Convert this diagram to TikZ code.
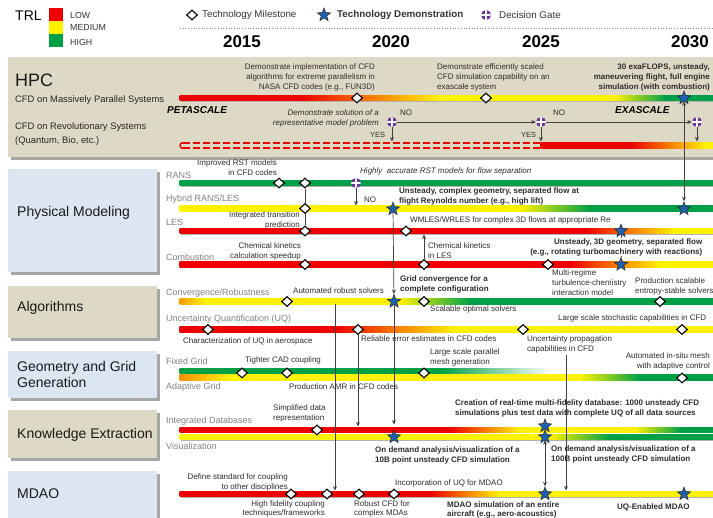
\documentclass[tikz,border=0pt]{standalone}
\usepackage{fontspec}
\setmainfont{Liberation Sans}
\usetikzlibrary{shapes.geometric,arrows.meta,positioning,calc}

\definecolor{trlred}{RGB}{238,0,0}
\definecolor{trlyellow}{RGB}{255,242,0}
\definecolor{trlgreen}{RGB}{0,160,72}
\definecolor{panelbeige}{RGB}{221,217,196}
\definecolor{panelblue}{RGB}{220,230,242}
\definecolor{starblue}{RGB}{30,96,178}
\definecolor{gatepurple}{RGB}{112,48,160}
\definecolor{tracktext}{RGB}{130,130,130}
\definecolor{notetext}{RGB}{45,45,45}

% bar segment: y, from x, to x, start colour, end colour
\newcommand{\trlseg}[5]{\shade[left color=#4, right color=#5] (#2-0.4,#1-2.8) rectangle (#3+0.4,#1+2.8);}
% grey shadow under a bar: y, from x, to x
\newcommand{\trlshadow}[3]{\fill[black!30] (#2+1,#1-1.8) rectangle (#3,#1+3.9);}

\tikzset{
  mile/.style={diamond, draw=black, fill=white, line width=1.1pt, minimum width=11pt, minimum height=10pt, inner sep=0pt},
  demo/.style={star, star points=5, star point ratio=2.4, draw=black!85, fill=starblue, line width=0.5pt, minimum size=14pt, inner sep=0pt},
  gate/.style={circle, fill=gatepurple, minimum size=10pt, inner sep=0pt,
    path picture={\draw[white, line width=1.1pt] (path picture bounding box.north) -- (path picture bounding box.south) (path picture bounding box.west) -- (path picture bounding box.east);}},
  link/.style={draw=black!75, line width=0.7pt},
  arr/.style={link, -{Stealth[length=4.5pt, width=4pt]}},
  note/.style={font=\fontsize{8}{9.6}\selectfont, text=notetext, inner sep=0pt},
  noteb/.style={note, font=\fontsize{8}{9.6}\selectfont\bfseries},
  notei/.style={note, font=\fontsize{8}{9.6}\selectfont\itshape},
  track/.style={font=\fontsize{9}{10}\selectfont, text=tracktext, anchor=west, inner sep=0pt},
  section/.style={font=\fontsize{14}{16.5}\selectfont, text=black!90, anchor=west, inner sep=0pt, align=left},
  year/.style={font=\fontsize{17}{20}\selectfont\bfseries, inner sep=0pt},
  legend/.style={font=\fontsize{9.8}{11}\selectfont, text=black!80, anchor=west, inner sep=0pt},
  panelshadow/.style={fill=black!35},
}

\begin{document}
\begin{tikzpicture}[x=1pt, y=-1pt]
\fill[white] (0,0) rectangle (713,518);
\useasboundingbox (0,0) rectangle (713,518);

% TRL scale
\node[font=\fontsize{14}{16}\selectfont, anchor=west, inner sep=0pt] (trl) at (15,15.5) {TRL};
\fill[trlred] (49,8) rectangle (63,21);
\fill[trlyellow] (49,21) rectangle (63,34);
\fill[trlgreen] (49,34) rectangle (63,47.5);
\node[legend, font=\fontsize{8.8}{10}\selectfont] (low) at (70,15) {LOW};
\node[legend, font=\fontsize{8.8}{10}\selectfont] (medium) at (70,28) {MEDIUM};
\node[legend, font=\fontsize{8.8}{10}\selectfont] (high) at (70,42) {HIGH};

% legend
\node[mile] (legmile) at (192,15) {};
\node[legend] (legmiletxt) at (202,15) {Technology Milestone};
\node[demo] (legdemo) at (324,15) {};
\node[legend, font=\fontsize{9.8}{11}\selectfont\bfseries] (legdemotxt) at (337,15) {Technology Demonstration};
\node[gate] (leggate) at (486,15) {};
\node[legend] (leggatetxt) at (499,15) {Decision Gate};
\draw[black!45, dotted, line width=0.7pt] (180,28) -- (713,28);

% years
\node[year] (y2015) at (242,42) {2015};
\node[year] (y2020) at (391,42) {2020};
\node[year] (y2025) at (541,42) {2025};
\node[year] (y2030) at (690,42) {2030};

% HPC panel
\fill[panelshadow] (11,60) rectangle (713,160);
\fill[panelbeige] (8,57) rectangle (713,157);

% left boxes
\foreach \ytop/\ybot/\col in {169/272/panelblue, 286/338/panelbeige, 351/398/panelblue, 410/458/panelbeige, 471/525/panelblue}{
  \fill[panelshadow] (11,\ytop+3) rectangle (160,\ybot+3);
  \fill[\col] (8,\ytop) rectangle (157,\ybot);
}

% section titles
\node[section, font=\fontsize{18}{20}\selectfont] (hpc) at (15,80) {HPC};
\node[section] (phys) at (17,213) {Physical Modeling};
\node[section] (algo) at (17,308) {Algorithms};
\node[section, anchor=north west] (geom) at (17,361) {Geometry and Grid\\Generation};
\node[section] (know) at (17,435) {Knowledge Extraction};
\node[section] (mdao) at (17,494) {MDAO};

\node[track, text=black!85, font=\fontsize{9.4}{11}\selectfont] (mps) at (15,100) {CFD on Massively Parallel Systems};
\node[track, text=black!85, font=\fontsize{9.4}{13.5}\selectfont, anchor=north west, align=left] (rev) at (15,122.5) {CFD on Revolutionary Systems\\(Quantum, Bio, etc.)};

% track labels
\node[track] (rans) at (166,175) {RANS};
\node[track] (hyb) at (166,199) {Hybrid RANS/LES};
\node[track] (les) at (166,222) {LES};
\node[track] (comb) at (166,257) {Combustion};
\node[track] (conv) at (166,293) {Convergence/Robustness};
\node[track] (uq) at (166,319) {Uncertainty Quantification (UQ)};
\node[track] (fixg) at (166,361) {Fixed Grid};
\node[track] (adpg) at (166,387) {Adaptive Grid};
\node[track] (intdb) at (166,421) {Integrated Databases};
\node[track] (viz) at (166,446) {Visualization};

% bar shadows
\foreach \y in {98,183,208.5,231,264.5,301.5,329.5,377.5,437,494}{\trlshadow{\y}{180}{713}}

% HPC bars
\trlseg{98}{180}{300}{trlred}{trlred}
\trlseg{98}{300}{440}{trlred}{trlyellow}
\trlseg{98}{440}{615}{trlyellow}{trlyellow}
\trlseg{98}{615}{665}{trlyellow}{trlgreen}
\trlseg{98}{665}{713}{trlgreen}{trlgreen}
\draw[trlred, line width=1.6pt, dash pattern=on 7pt off 3pt] (183,143) -- (541,143);
\draw[trlred, line width=1.6pt, dash pattern=on 7pt off 3pt] (183,148) -- (541,148);
\draw[trlred, line width=1.4pt] (183,142.5) .. controls (179,143) and (179,148) .. (183,148.5);
\trlseg{145.5}{541}{630}{trlred}{trlred}
\trlseg{145.5}{630}{706}{trlred}{trlyellow}
\trlseg{145.5}{706}{713}{trlyellow}{trlyellow}
\node[font=\fontsize{10}{12}\selectfont\bfseries\itshape, anchor=west, inner sep=0pt] (peta) at (167,110) {PETASCALE};
\node[font=\fontsize{10}{12}\selectfont\bfseries\itshape, anchor=west, inner sep=0pt] (exa) at (615,110) {EXASCALE};

% physical modeling bars
\trlseg{183}{180}{713}{trlgreen}{trlgreen}
\trlseg{208.5}{180}{520}{trlyellow}{trlyellow}
\trlseg{208.5}{520}{590}{trlyellow}{trlgreen}
\trlseg{208.5}{590}{713}{trlgreen}{trlgreen}
\trlseg{231}{180}{585}{trlred}{trlred}
\trlseg{231}{585}{675}{trlred}{trlyellow}
\trlseg{231}{675}{713}{trlyellow}{trlyellow}
\trlseg{264.5}{180}{570}{trlred}{trlred}
\trlseg{264.5}{570}{660}{trlred}{trlyellow}
\trlseg{264.5}{660}{713}{trlyellow}{trlyellow}

% algorithms bars
\trlseg{301.5}{180}{205}{trlred!35!trlyellow}{trlyellow}
\trlseg{301.5}{205}{400}{trlyellow}{trlyellow}
\trlseg{301.5}{400}{470}{trlyellow}{trlgreen}
\trlseg{301.5}{470}{713}{trlgreen}{trlgreen}
\trlseg{329.5}{180}{335}{trlred}{trlred}
\trlseg{329.5}{335}{455}{trlred}{trlyellow}
\trlseg{329.5}{455}{713}{trlyellow}{trlyellow}

% geometry and grid bars
\trlseg{377.5}{180}{230}{trlred!40!trlyellow}{trlyellow}
\trlseg{377.5}{230}{580}{trlyellow}{trlyellow}
\trlseg{377.5}{580}{640}{trlyellow}{trlgreen}
\trlseg{377.5}{640}{713}{trlgreen}{trlgreen}
\trlseg{371}{180}{440}{trlgreen}{trlgreen}
\trlseg{371}{440}{552}{trlgreen}{white}

% knowledge extraction bars
\trlseg{437}{180}{550}{trlyellow}{trlyellow}
\trlseg{437}{550}{610}{trlyellow}{trlgreen}
\trlseg{437}{610}{713}{trlgreen}{trlgreen}
\trlseg{430}{180}{450}{trlred}{trlred}
\trlseg{430}{450}{520}{trlred}{trlyellow}
\trlseg{430}{520}{635}{trlyellow}{trlyellow}
\trlseg{430}{635}{680}{trlyellow}{trlgreen}
\trlseg{430}{680}{713}{trlgreen}{trlgreen}

% MDAO bar
\trlseg{494}{180}{430}{trlred}{trlred}
\trlseg{494}{430}{500}{trlred}{trlyellow}
\trlseg{494}{500}{713}{trlyellow}{trlyellow}

% HPC milestones
\node[mile] (hpcm1) at (357,98) {};
\node[mile] (hpcm2) at (486,98) {};
\node[demo] (hpcd) at (684,98) {};
\node[gate] (g1) at (392,122) {};
\node[gate] (g2) at (541,122) {};
\node[gate] (g3) at (697,122) {};
\coordinate (revbar1) at (392,141.5);
\coordinate (revbar2) at (541,141.5);
\coordinate (revbar3) at (697,141.5);

% physical modeling milestones
\node[mile] (ransm1) at (279,183) {};
\node[mile] (ransm2) at (305,183) {};
\node[gate] (ransg) at (356,183) {};
\node[mile] (hybm1) at (305,208.5) {};
\node[demo] (hybd1) at (393,209) {};
\node[demo] (hybd2) at (684,209) {};
\node[mile] (lesm1) at (305,231) {};
\node[mile] (lesm2) at (406,231) {};
\node[demo] (lesd) at (621,231) {};
\node[mile] (combm1) at (305,264.5) {};
\node[mile] (combm2) at (424,264.5) {};
\node[mile] (combm3) at (548,264.5) {};
\node[demo] (combd) at (621,264.5) {};
\coordinate (hybbar1) at (356,205.5);
\coordinate (lesbar1) at (424,234.5);

% algorithms milestones
\node[mile] (convm1) at (287,301.5) {};
\node[demo] (convd) at (394,301.5) {};
\node[mile] (convm2) at (424,301.5) {};
\node[mile] (convm3) at (660,301.5) {};
\node[mile] (uqm1) at (208,329.5) {};
\node[mile] (uqm2) at (358,329.5) {};
\node[mile] (uqm3) at (523,329.5) {};
\node[mile] (uqm4) at (682,329.5) {};
\coordinate (convbar1) at (335,304.5);
\coordinate (uqprop1) at (566,355);

% geometry milestones
\node[mile] (fixm1) at (242,373) {};
\node[mile] (fixm2) at (287,373) {};
\node[mile] (fixm3) at (424,373) {};
\node[mile] (adpm1) at (682,378) {};

% knowledge extraction milestones
\node[mile] (intm1) at (317,430) {};
\node[demo] (intd1) at (545,426) {};
\node[demo] (vizd1) at (394,437) {};
\node[demo] (vizd2) at (545,437) {};
\coordinate (intbar1) at (358,426.5);
\coordinate (intbar2) at (394,424.5);

% MDAO milestones
\node[mile] (mdm1) at (291,494) {};
\node[mile] (mdm2) at (327,494) {};
\node[mile] (mdm3) at (359,494) {};
\node[mile] (mdm4) at (394,494) {};
\node[demo] (mdd1) at (545,494) {};
\node[demo] (mdd2) at (684,494) {};
\coordinate (mdbar1) at (335,490.5);
\coordinate (mdbar2) at (566,490.5);

% connectors
\draw[arr] (g1) -- (g2);
\draw[arr] (g2) -- (g3);
\draw[arr] (g1) -- (revbar1);
\draw[arr] (g2) -- (revbar2);
\draw[arr] (g3) -- (revbar3);
\draw[link, {Stealth[length=4.5pt, width=4pt]}-{Stealth[length=4.5pt, width=4pt]}] (hpcd) -- (hybd2);
\draw[link] (ransm2) -- (hybm1);
\draw[link] (hybm1) -- (lesm1);
\draw[arr] (ransg) -- (hybbar1);
\draw[arr] (hybd1) -- (convd);
\draw[arr] (convd) -- (intbar2);
\draw[arr] (combm2) -- (lesbar1);
\draw[link] (lesd) -- (combd);
\draw[arr] (convbar1) -- (mdbar1);
\draw[arr] (uqm2) -- (intbar1);
\draw[arr] (uqprop1) -- (mdbar2);
\draw[link, {Stealth[length=4.5pt, width=4pt]}-{Stealth[length=4.5pt, width=4pt]}] (vizd2) -- (mdd1);

% HPC notes
\node[note, anchor=north east, align=right] (hpcn1) at (375,64) {Demonstrate implementation of CFD\\algorithms for extreme parallelism in\\NASA CFD codes (e.g., FUN3D)};
\node[note, anchor=north west, align=left] (hpcn2) at (437,64) {Demonstrate efficiently scaled\\CFD simulation capability on an\\exascale system};
\node[noteb, anchor=north east, align=right] (hpcn3) at (710,64) {30 exaFLOPS, unsteady,\\maneuvering flight, full engine\\simulation (with combustion)};
\node[notei, anchor=north east, align=right] (hpcn4) at (379,110) {Demonstrate solution of a\\representative model problem};
\node[note, anchor=west] (no1) at (400,113) {NO};
\node[note, anchor=west] (no2) at (553,113) {NO};
\node[note, anchor=west, font=\fontsize{7.5}{9}\selectfont] (yes1) at (370,135) {YES};
\node[note, anchor=west, font=\fontsize{7.5}{9}\selectfont] (yes2) at (521,135) {YES};

% physical modeling notes
\node[note, anchor=north east, align=right] (rstn) at (277,160) {Improved RST models\\in CFD codes};
\node[notei, anchor=west] (rstgoal) at (360,171) {Highly\ \ accurate RST models for flow separation};
\node[note, anchor=west] (no3) at (364,200) {NO};
\node[noteb, anchor=north west, align=left] (hybn) at (399,188) {Unsteady, complex geometry, separated flow at\\flight Reynolds number (e.g., high lift)};
\node[note, anchor=north east, align=right] (transn) at (300,212) {Integrated transition\\prediction};
\node[note, anchor=west] (wmles) at (410,220) {WMLES/WRLES for complex 3D flows at appropriate Re};
\node[note, anchor=north east, align=right] (chemn1) at (301,243) {Chemical kinetics\\calculation speedup};
\node[note, anchor=north west, align=left] (chemn2) at (428,243) {Chemical kinetics\\in LES};
\node[noteb, anchor=north east, align=right, fill=white, inner sep=0.5pt] (combn) at (703,238) {Unsteady, 3D geometry, separated flow\\(e.g., rotating turbomachinery with reactions)};
\node[note, anchor=north west, align=left] (multin) at (552,270) {Multi-regime\\turbulence-chemistry\\interaction model};

% algorithms notes
\node[note, anchor=west] (robustn) at (293,291) {Automated robust solvers};
\node[noteb, anchor=north west, align=left] (gridn) at (400,276) {Grid convergence for a\\complete configuration};
\node[note, anchor=west] (scalen) at (430,309) {Scalable optimal solvers};
\node[note, anchor=north west, align=left] (entropyn) at (635,278) {Production scalable\\entropy-stable solvers};
\node[note, anchor=west] (uqcharn) at (183,341) {Characterization of UQ in aerospace};
\node[note, anchor=west] (reliablen) at (361,339) {Reliable error estimates in CFD codes};
\node[note, anchor=north west, align=left] (uqpropn) at (527,336) {Uncertainty propagation\\capabilities in CFD};
\node[note, anchor=west] (stochn) at (558,318) {Large scale stochastic capabilities in CFD};

% geometry notes
\node[note, anchor=west] (cadn) at (245,360) {Tighter CAD coupling};
\node[note, anchor=north west, align=left] (meshn) at (430,349) {Large scale parallel\\mesh generation};
\node[note, anchor=north east, align=right] (insitun) at (710,353) {Automated in-situ mesh\\with adaptive control};
\node[note, anchor=west] (amrn) at (289,387) {Production AMR in CFD codes};

% knowledge extraction notes
\node[note, anchor=north west, align=left] (simpln) at (273,405) {Simplified data\\representation};
\node[noteb, anchor=north west, align=left] (realn) at (455,400) {Creation of real-time multi-fidelity database: 1000 unsteady CFD\\simulations plus test data with complete UQ of all data sources};
\node[noteb, anchor=north west, align=left] (viz10n) at (375,447) {On demand analysis/visualization of a\\10B point unsteady CFD simulation};
\node[noteb, anchor=north west, align=left] (viz100n) at (551,446) {On demand analysis/visualization of a\\100B point unsteady CFD simulation};

% MDAO notes
\node[note, anchor=north east, align=right] (stdn) at (288,474) {Define standard for coupling\\to other disciplines};
\node[note, anchor=north east, align=right, font=\fontsize{8}{8.8}\selectfont] (hifin) at (325,501) {High fidelity coupling\\techniques/frameworks};
\node[note, anchor=north west, align=left, font=\fontsize{8}{8.8}\selectfont] (robmdan) at (354,501) {Robust CFD for\\complex MDAs};
\node[note, anchor=west] (uqmdaon) at (395,483) {Incorporation of UQ for MDAO};
\node[noteb, anchor=north west, align=left, font=\fontsize{8}{8.8}\selectfont\bfseries] (mdsimn) at (447,502) {MDAO simulation of an entire\\aircraft (e.g., aero-acoustics)};
\node[noteb, anchor=west] (uqenn) at (617,507) {UQ-Enabled MDAO};
\end{tikzpicture}
\end{document}
